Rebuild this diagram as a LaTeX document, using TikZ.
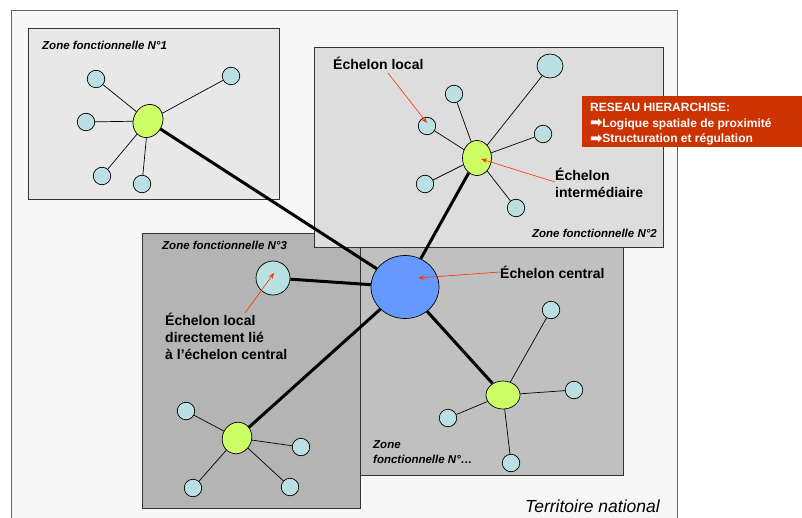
\documentclass[tikz,border=0pt]{standalone}
\usepackage{fontspec}
\setmainfont{Liberation Sans}
\newfontfamily\dejavu{DejaVu Sans}
\usetikzlibrary{arrows.meta,shapes.geometric}
\definecolor{leafc}{HTML}{BBE0E3}
\definecolor{hubc}{HTML}{CCFF66}
\definecolor{centc}{HTML}{6699FF}
\definecolor{redbox}{HTML}{CC3300}
\definecolor{annc}{HTML}{FF3300}
\definecolor{terrc}{HTML}{F7F7F7}
\definecolor{zoneA}{HTML}{E8E8E8}
\definecolor{zoneB}{HTML}{DDDDDD}
\definecolor{zoneC}{HTML}{B4B4B4}
\definecolor{zoneD}{HTML}{C0C0C0}
\newcommand{\bigarr}{\smash{\raisebox{-0.6pt}{\dejavu\fontsize{15}{12}\selectfont ➡}}\kern-0.5pt}
\begin{document}
\begin{tikzpicture}[x=1pt,y=-1pt,
  zone/.style={draw=black!80, line width=0.8pt},
  leaf/.style={circle, draw=black, fill=leafc, line width=0.7pt, minimum size=17.5pt, inner sep=0pt},
  hub/.style={ellipse, draw=black, fill=hubc, line width=0.7pt, inner sep=0pt},
  thinlink/.style={line width=0.7pt},
  thicklink/.style={line width=3pt},
  annot/.style={draw=annc, line width=0.6pt, -{Stealth[length=6pt,width=4.5pt]}},
  zlabel/.style={font=\bfseries\itshape\fontsize{11.5}{13.5}\selectfont, inner sep=0pt, align=left},
  blabel/.style={font=\bfseries\fontsize{14}{17}\selectfont, anchor=west, inner sep=0pt, align=left},
]
\useasboundingbox (0,0) rectangle (802,518);
\fill[white] (0,0) rectangle (802,518);
% territory
\draw[draw=black!60, fill=terrc, line width=0.8pt] (11,10) rectangle (677,540);
\node[anchor=east, inner sep=0pt, font=\itshape\fontsize{17.5}{20}\selectfont] (terr) at (660,506) {Territoire national};
% zones
\draw[zone, fill=zoneA] (28,28) rectangle (279,199);
\draw[zone, fill=zoneD] (359,240) rectangle (623,475);
\draw[zone, fill=zoneC] (142,233) rectangle (360,508);
\draw[zone, fill=zoneB] (314,47) rectangle (663,247);
\node[zlabel, anchor=west] (z1) at (42,45) {Zone fonctionnelle N°1};
\node[zlabel, anchor=east] (z2) at (657,233) {Zone fonctionnelle N°2};
\node[zlabel, anchor=west] (z3) at (162,245) {Zone fonctionnelle N°3};
\node[zlabel, anchor=west, font=\bfseries\itshape\fontsize{11.5}{15}\selectfont] (z4) at (373,452) {Zone\\fonctionnelle N°\dots};
% red box
\fill[redbox] (582,96) rectangle (802,147);
\node[anchor=north west, inner sep=0pt, text=white, align=left, font=\bfseries\fontsize{12}{15.5}\selectfont] (rb) at (590,103)
  {RESEAU HIERARCHISE:\\\bigarr Logique spatiale de proximité\\\bigarr Structuration et régulation};
% central
\node[ellipse, draw=black, fill=centc, line width=0.7pt, minimum width=68pt, minimum height=63pt, inner sep=0pt] (c) at (405,287) {};
% zone 1
\node[hub, minimum width=29pt, minimum height=34pt, rotate=-25] (h1) at (148,121) {};
\node[leaf] (a1) at (96,79) {};
\node[leaf] (a2) at (231,76) {};
\node[leaf] (a3) at (86,122) {};
\node[leaf] (a4) at (102,176) {};
\node[leaf] (a5) at (142,184) {};
% zone 2
\node[hub, minimum width=29pt, minimum height=35pt] (h2) at (477,158) {};
\node[leaf, ellipse, minimum width=26pt, minimum height=24pt] (b0) at (550,66) {};
\node[leaf] (b1) at (454,94) {};
\node[leaf] (b2) at (427,126) {};
\node[leaf] (b3) at (543,134) {};
\node[leaf] (b4) at (425,184) {};
\node[leaf] (b5) at (516,208) {};
% zone 3
\node[leaf, minimum size=34pt] (d0) at (273,278) {};
\node[hub, minimum width=29pt, minimum height=32pt, rotate=-25] (h3) at (237,438) {};
\node[leaf] (d1) at (186,411) {};
\node[leaf] (d2) at (301,447) {};
\node[leaf] (d3) at (193,488) {};
\node[leaf] (d4) at (290,487) {};
% zone 4
\node[hub, minimum width=34pt, minimum height=28pt] (h4) at (503,395) {};
\node[leaf] (e1) at (551,310) {};
\node[leaf] (e2) at (574,390) {};
\node[leaf] (e3) at (448,418) {};
\node[leaf] (e4) at (511,463) {};
% links
\foreach \l in {a1,a2,a3,a4,a5} \draw[thinlink] (h1) -- (\l);
\foreach \l in {b0,b1,b2,b3,b4,b5} \draw[thinlink] (h2) -- (\l);
\foreach \l in {d1,d2,d3,d4} \draw[thinlink] (h3) -- (\l);
\foreach \l in {e1,e2,e3,e4} \draw[thinlink] (h4) -- (\l);
\foreach \h in {h1,h2,d0,h3,h4} \draw[thicklink] (c) -- (\h);
% labels
\node[blabel] (l1) at (333,63) {Échelon local};
\node[blabel] (l2) at (555,183) {Échelon\\intermédiaire};
\node[blabel] (l3) at (500,272) {Échelon central};
\node[blabel] (l4) at (165,336) {Échelon local\\directement lié\\à l’échelon central};
\coordinate (t1) at (427,123);
\coordinate (t2) at (481,159);
\coordinate (t3) at (418,278);
\coordinate (t4) at (274,273);
\coordinate (s1) at (388,73);
\coordinate (s4) at (245,313);
\draw[annot] (s1) -- (t1);
\draw[annot] (l2.west |- 0,182) -- (t2);
\draw[annot] (l3.west) -- (t3);
\draw[annot] (s4) -- (t4);
\end{tikzpicture}
\end{document}
